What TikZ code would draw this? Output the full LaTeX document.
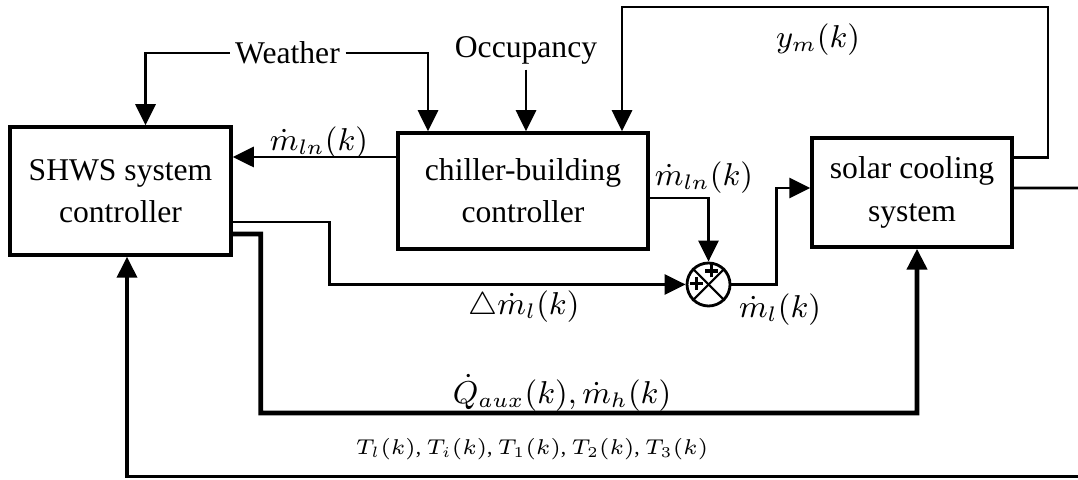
\RequirePackage{fix-cm}
\documentclass[tikz,border=0pt]{standalone}
\usepackage[no-math]{fontspec}
\setmainfont{Liberation Serif}
\usetikzlibrary{arrows.meta,shapes}

\begin{document}
\begin{tikzpicture}[
		>={Triangle[length=2.1mm,width=2mm]},
		block/.style={draw,line width=1pt,align=center,font=\fontsize{9}{12}\selectfont},
		link/.style={->,line width=0.8pt},
		txt/.style={inner sep=0.5mm,font=\fontsize{9}{12}\selectfont},
		sig/.style={inner sep=0.3mm,font=\fontsize{9}{11}\selectfont}]
					\useasboundingbox (0,0) rectangle (10.78,4.80);
					
					% blocks
					\node[block,minimum width=2.21cm,minimum height=1.28cm] (shws) at (1.205,2.89) {SHWS system\\controller};
					\node[block,minimum width=2.50cm,minimum height=1.16cm] (chiller) at (5.23,2.89) {chiller-building\\controller};
					\node[block,minimum width=2.00cm,minimum height=1.09cm] (solar) at (9.12,2.875) {solar cooling\\system};
					\node[draw,circle,line width=0.8pt,minimum size=0.43cm,inner sep=0pt] (sum) at (7.085,1.955) {};
					\draw[line width=0.6pt] (sum.north west) -- (sum.south east);
					\draw[line width=0.6pt] (sum.north east) -- (sum.south west);
					% plus signs
					\coordinate (plusn) at ([xshift=0.3mm,yshift=1.35mm]sum.center);
					\coordinate (plusw) at ([xshift=-1.2mm,yshift=0.1mm]sum.center);
					\draw[line width=1pt] (plusn) +(-0.065,0) -- +(0.065,0) +(0,-0.065) -- +(0,0.065);
					\draw[line width=1pt] (plusw) +(-0.065,0) -- +(0.065,0) +(0,-0.065) -- +(0,0.065);
					
					% inputs
					\node[txt] (weather) at (2.875,4.27) {Weather};
					\node[txt] (occ) at (5.26,4.30) {Occupancy};
					\draw[link] (weather.west) -| ([xshift=2.5mm]shws.north);
					\draw[link] (weather.east) -| ([xshift=-9.5mm]chiller.north);
					\draw[link] (occ.south) -- (occ.south |- chiller.north);
					
					% signals
					\coordinate (ymtop) at (10.48,4.73);
					\coordinate (outend) at (10.80,2.92);
					\coordinate (fbend) at (10.80,0.035);
					\draw[link] ([yshift=3.5mm]solar.east) -| (ymtop) -| ([xshift=9.9mm]chiller.north);
					\draw[line width=0.8pt] ([yshift=0.45mm]solar.east) -- (outend);
					\draw[link] ([yshift=3.4mm]chiller.west) -- ([yshift=3.4mm]chiller.west -| shws.east);
					\draw[link] ([yshift=-0.7mm]chiller.east) -| (sum.north);
					\draw[link] ([yshift=-3.1mm]shws.east) -- ++(0.97,0) |- (sum.west);
					\draw[link] (sum.east) -- ++(0.45,0) |- ([yshift=0.45mm]solar.west);
					\draw[link,line width=1.3pt] ([yshift=-4.3mm]shws.east) -- ++(0.28,0) |- (9.17,0.67) -- ([xshift=0.5mm]solar.south);
					\draw[link,line width=1.1pt] (fbend) -| ([xshift=0.65mm]shws.south);
					
					% labels
					\node[sig] (lmlnl) at (3.19,3.37) {$\dot{m}_{ln}(k)$};
					\node[sig] (lmlnr) at (7.04,3.02) {$\dot{m}_{ln}(k)$};
					\node[sig] (lym) at (8.18,4.40) {$y_m(k)$};
					\node[sig] (ldml) at (5.24,1.73) {$\triangle\dot{m}_l(k)$};
					\node[sig] (lml) at (7.80,1.70) {$\dot{m}_l(k)$};
					\node[sig] (lq) at (5.62,0.87) {$\dot{Q}_{aux}(k),\dot{m}_h(k)$};
					\node[sig,font=\fontsize{6.1}{8}\selectfont] (lt) at (5.32,0.31) {$T_l(k)$, $T_i(k)$, $T_1(k)$, $T_2(k)$, $T_3(k)$};
				\end{tikzpicture}
\end{document}
